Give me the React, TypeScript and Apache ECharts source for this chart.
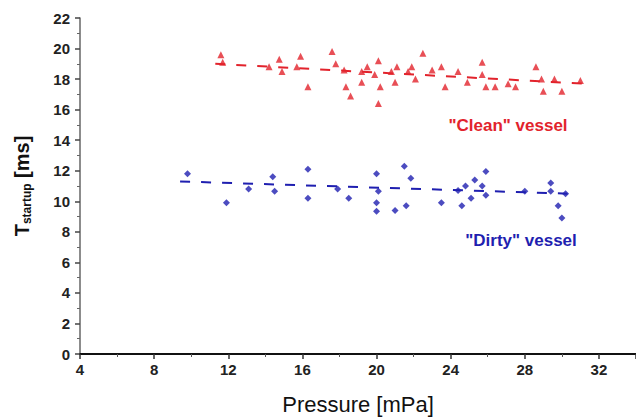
import React, { useEffect, useRef } from "react";
import * as echarts from "echarts";

const xTicks = [4, 8, 12, 16, 20, 24, 28, 32];
const yTicks = [0, 2, 4, 6, 8, 10, 12, 14, 16, 18, 20, 22];

const cleanPoints: [number, number][] = [
  [11.6, 19.6], [11.7, 19.1], [14.2, 18.8], [14.75, 19.3], [14.9, 18.5],
  [15.7, 18.8], [15.9, 19.5], [16.3, 17.5], [17.6, 19.8], [17.8, 19.0],
  [18.25, 18.6], [18.35, 17.5], [18.6, 16.9], [19.2, 18.5], [19.2, 17.8],
  [19.5, 18.8], [19.9, 18.3], [20.1, 19.2], [20.2, 17.5], [20.1, 16.4],
  [20.8, 18.5], [21.0, 17.8], [21.1, 18.8], [21.7, 18.5], [21.9, 18.8],
  [22.5, 19.7], [23.0, 18.6], [23.5, 18.8], [22.1, 18.0], [23.7, 17.5],
  [24.4, 18.5], [24.9, 17.8], [25.7, 19.1], [25.7, 18.3], [25.9, 17.5],
  [26.4, 17.5], [27.1, 17.7], [27.5, 17.5], [28.6, 18.8], [28.9, 18.0],
  [29.0, 17.2], [29.6, 18.0], [30.0, 17.2], [31.0, 17.9]
];

const dirtyPoints: [number, number][] = [
  [9.8, 11.8], [11.9, 9.9], [13.1, 10.8], [14.4, 11.6], [14.5, 10.65],
  [16.3, 12.1], [16.3, 10.2], [17.9, 10.8], [18.5, 10.2], [20.0, 11.8],
  [20.1, 10.65], [20.0, 9.9], [20.0, 9.35], [21.0, 9.4], [21.5, 12.3],
  [21.6, 9.7], [21.85, 11.5], [23.5, 9.9], [24.4, 10.7], [24.8, 11.0],
  [25.3, 11.4], [25.9, 11.95], [25.7, 11.0], [25.1, 10.2], [24.6, 9.7],
  [25.9, 10.4], [28.0, 10.65], [29.4, 11.2], [29.4, 10.65], [30.2, 10.5],
  [29.8, 9.7], [30.0, 8.9]
];

const cleanFit: [number, number][] = [[11.3, 19.0], [31.2, 17.7]];
const dirtyFit: [number, number][] = [[9.4, 11.3], [30.3, 10.5]];

const RED = "#e2232c";
const BLUE = "#1f1fb0";

export default function App() {
  const ref = useRef<HTMLDivElement>(null);
  useEffect(() => {
    document.body.style.margin = "0";
    const chart = echarts.init(ref.current!, null, { renderer: "svg" });
    const font = "Liberation Sans, Arial, sans-serif";
    chart.setOption({
      animation: false,
      backgroundColor: "#ffffff",
      grid: { left: 80, right: 0, top: 18, bottom: 63 },
      xAxis: {
        type: "value",
        min: 4,
        max: 34,
        interval: 4,
        name: "Pressure [mPa]",
        nameLocation: "middle",
        nameGap: 39,
        nameTextStyle: { fontSize: 22, color: "#111", fontFamily: font },
        axisLine: { onZero: false, lineStyle: { color: "#111", width: 2 } },
        axisTick: { show: true, length: 5, lineStyle: { color: "#333", width: 1.5 } },
        minorTick: { show: true, splitNumber: 2, length: 3, lineStyle: { color: "#555" } },
        splitLine: { show: false },
        axisLabel: {
          fontSize: 15,
          fontWeight: "bold",
          color: "#222",
          fontFamily: font,
          margin: 8,
          showMaxLabel: false,
          formatter: (v: number) => (xTicks.includes(v) ? String(v) : "")
        }
      },
      yAxis: {
        type: "value",
        min: 0,
        max: 22,
        interval: 2,
        name: "{a|T}{b|startup}{a| [ms]}",
        nameLocation: "middle",
        nameGap: 47,
        nameTextStyle: {
          fontFamily: font,
          color: "#111",
          rich: {
            a: { fontSize: 20, fontWeight: "bold", color: "#111", fontFamily: font },
            b: { fontSize: 12, fontWeight: "bold", color: "#111", fontFamily: font, padding: [10, 0, 0, 0] }
          }
        },
        axisLine: { lineStyle: { color: "#666", width: 1.5 } },
        axisTick: { show: true, length: 5, lineStyle: { color: "#444", width: 1.5 } },
        minorTick: { show: true, splitNumber: 2, length: 3, lineStyle: { color: "#666" } },
        splitLine: { show: false },
        axisLabel: {
          fontSize: 15,
          fontWeight: "bold",
          color: "#222",
          fontFamily: font,
          margin: 10,
          formatter: (v: number) => (yTicks.includes(v) ? String(v) : "")
        }
      },
      series: [
        {
          type: "line",
          data: cleanFit,
          symbol: "none",
          lineStyle: { color: RED, width: 2, type: [10, 11] },
          z: 1
        },
        {
          type: "line",
          data: dirtyFit,
          symbol: "none",
          lineStyle: { color: BLUE, width: 2, type: [10, 11] },
          z: 1
        },
        {
          type: "scatter",
          data: cleanPoints,
          symbol: "triangle",
          symbolSize: 7,
          itemStyle: { color: RED },
          z: 2
        },
        {
          type: "scatter",
          data: dirtyPoints,
          symbol: "diamond",
          symbolSize: 7,
          itemStyle: { color: BLUE },
          z: 2
        }
      ],
      graphic: [
        {
          type: "text",
          x: 508,
          y: 125,
          style: {
            text: "\"Clean\" vessel",
            fill: RED,
            font: "bold 17px Liberation Sans, Arial, sans-serif",
            textAlign: "center",
            textVerticalAlign: "middle"
          }
        },
        {
          type: "text",
          x: 521,
          y: 240,
          style: {
            text: "\"Dirty\" vessel",
            fill: BLUE,
            font: "bold 17px Liberation Sans, Arial, sans-serif",
            textAlign: "center",
            textVerticalAlign: "middle"
          }
        }
      ]
    });
    return () => chart.dispose();
  }, []);
  return <div ref={ref} style={{ width: 636, height: 420 }} />;
}
